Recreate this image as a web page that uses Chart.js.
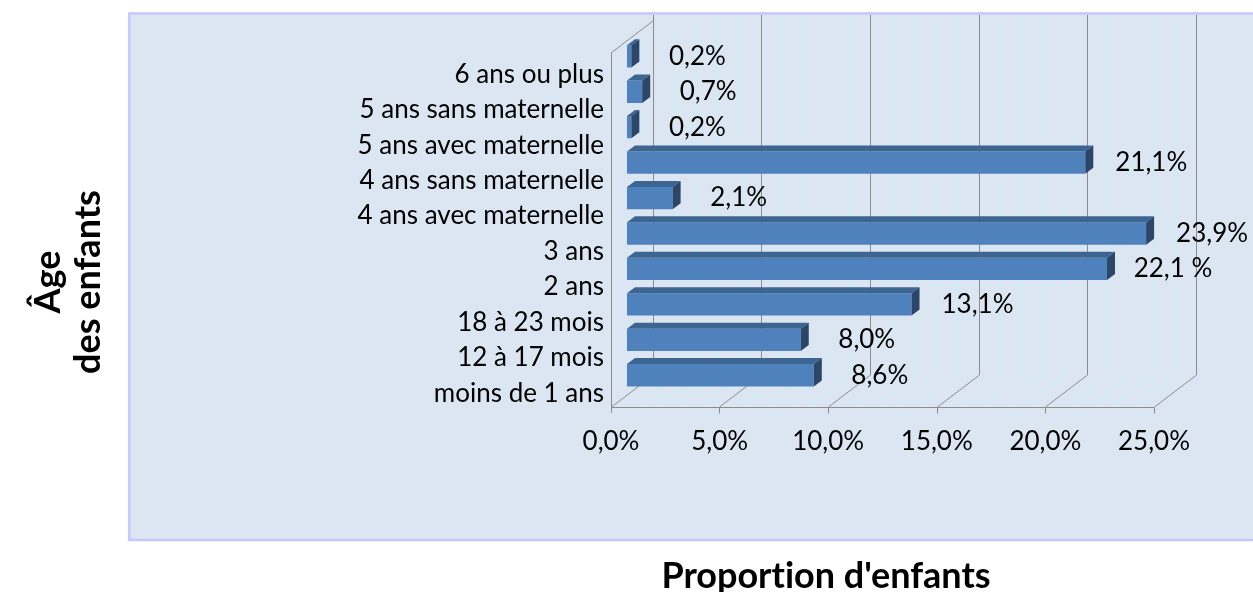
<!DOCTYPE html>
<html><head><meta charset="utf-8">
<script src="https://cdn.jsdelivr.net/npm/chart.js@4.4.1/dist/chart.umd.min.js"></script>
<style>html,body{margin:0;padding:0;background:#fff;}#wrap{width:1253px;height:592px;position:relative}</style>
</head><body><div id="wrap"><canvas id="c" width="1253" height="592"></canvas></div>
<script>
const categories = ["6 ans ou plus","5 ans sans maternelle","5 ans avec maternelle","4 ans sans maternelle","4 ans avec maternelle","3 ans","2 ans","18 à 23 mois","12 à 17 mois","moins de 1 ans"];
const values = [0.2, 0.7, 0.2, 21.1, 2.1, 23.9, 22.1, 13.1, 8.0, 8.6];
const valueLabels = ["0,2%","0,7%","0,2%","21,1%","2,1%","23,9%","22,1 %","13,1%","8,0%","8,6%"];
const xTickLabels = ["0,0%","5,0%","10,0%","15,0%","20,0%","25,0%"];
const xTitle = "Proportion d'enfants";
const yTitle = ["Âge","des enfants"];

const FONT = 'Lato';
Chart.defaults.font.family = FONT;

const FRONT = {dx:-16.3, dy:14};
const BACK = {dx:25.7, dy:-18};
const BARD = {dx:8, dy:-6};

const scene3d = {
  id:'scene3d',
  beforeDraw(chart){
    const ctx = chart.ctx;
    ctx.save();
    ctx.fillStyle = '#ffffff';
    ctx.fillRect(0,0,chart.width,chart.height);
    ctx.fillStyle = '#dce6f2';
    ctx.fillRect(128,12,chart.width-128,529);
    ctx.strokeStyle = '#c8c8fa';
    ctx.lineWidth = 2.5;
    ctx.beginPath();
    ctx.moveTo(chart.width,13.5); ctx.lineTo(129.2,13.5); ctx.lineTo(129.2,540); ctx.lineTo(chart.width,540);
    ctx.stroke();
    ctx.restore();
  },
  beforeDatasetsDraw(chart){
    const {ctx, chartArea:a, scales:{x}} = chart;
    const top = a.top, bot = a.bottom;
    const r = v => Math.round(v)+0.5;
    ctx.save();
    ctx.lineWidth = 1;
    const draw = (major) => {
      for (let v = 0; v <= 25; v++) {
        if ((v % 5 === 0) !== major) continue;
        const px = x.getPixelForValue(v);
        ctx.strokeStyle = major ? '#8c8c8c' : '#c6eff6';
        ctx.beginPath();
        ctx.moveTo(r(px+BACK.dx), 15);
        ctx.lineTo(r(px+BACK.dx), bot+BACK.dy);
        ctx.lineTo(r(px+FRONT.dx), bot+FRONT.dy);
        ctx.stroke();
      }
    };
    draw(false);
    draw(true);
    const x0 = x.getPixelForValue(0), x25 = x.getPixelForValue(25);
    ctx.strokeStyle = '#8c8c8c';
    ctx.beginPath();
    ctx.moveTo(r(x0+BACK.dx), top+BACK.dy);
    ctx.lineTo(r(x0+FRONT.dx), top+FRONT.dy);
    ctx.lineTo(r(x0+FRONT.dx), bot+FRONT.dy+6);
    ctx.moveTo(r(x0+FRONT.dx), r(bot+FRONT.dy));
    ctx.lineTo(r(x25+FRONT.dx), r(bot+FRONT.dy));
    for (let v = 5; v <= 25; v += 5) {
      const px = r(x.getPixelForValue(v)+FRONT.dx);
      ctx.moveTo(px, r(bot+FRONT.dy));
      ctx.lineTo(px, r(bot+FRONT.dy)+6);
    }
    ctx.stroke();
    ctx.restore();
  },
  afterDatasetsDraw(chart){
    const ctx = chart.ctx;
    const meta = chart.getDatasetMeta(0);
    ctx.save();
    meta.data.forEach((bar, i) => {
      const {x, y, base, height} = bar.getProps(['x','y','base','height'], true);
      const t = y - height/2, b = y + height/2;
      ctx.fillStyle = '#3d6591';
      ctx.beginPath();
      ctx.moveTo(base, t); ctx.lineTo(x, t); ctx.lineTo(x+BARD.dx, t+BARD.dy); ctx.lineTo(base+BARD.dx, t+BARD.dy);
      ctx.closePath(); ctx.fill();
      ctx.fillStyle = '#2b4668';
      ctx.beginPath();
      ctx.moveTo(x, t); ctx.lineTo(x+BARD.dx, t+BARD.dy); ctx.lineTo(x+BARD.dx, b+BARD.dy); ctx.lineTo(x, b);
      ctx.closePath(); ctx.fill();
    });
    ctx.fillStyle = '#000';
    ctx.font = '26px ' + FONT;
    ctx.textAlign = 'center';
    ctx.textBaseline = 'middle';
    meta.data.forEach((bar, i) => {
      const {x, y} = bar.getProps(['x','y'], true);
      ctx.fillText(valueLabels[i], x + 66, y);
    });
    ctx.restore();
  },
  afterDraw(chart){
    const ctx = chart.ctx;
    ctx.save();
    ctx.fillStyle = '#000';
    ctx.font = 'bold 36px ' + FONT;
    try { ctx.textRendering = 'optimizeSpeed'; } catch(e) {}
    ctx.textAlign = 'center';
    ctx.textBaseline = 'alphabetic';
    ctx.fillText(xTitle, 826, 588);
    ctx.translate(0, 282);
    ctx.rotate(-Math.PI/2);
    ctx.fillText(yTitle[0], 0, 60);
    ctx.fillText(yTitle[1], 0, 100);
    ctx.restore();
  }
};

new Chart(document.getElementById('c'), {
  type:'bar',
  data:{labels:categories, datasets:[{data:values, backgroundColor:'#4f81bd', borderWidth:0, barPercentage:0.63, categoryPercentage:1}]},
  options:{
    responsive:false, animation:false, devicePixelRatio:1,
    indexAxis:'y',
    layout:{padding:{top:34, right:83, left:0, bottom:0}},
    plugins:{legend:{display:false}, tooltip:{enabled:false}, title:{display:false}},
    scales:{
      x:{type:'linear', min:0, max:25, border:{display:false}, grid:{display:false, drawTicks:false},
         ticks:{stepSize:5, autoSkip:false, padding:33, labelOffset:-16, color:'#000', font:{size:26}, maxRotation:0, callback:(v,i)=>xTickLabels[i]},
         afterFit(s){ s.height = 199; }},
      y:{border:{display:false}, grid:{display:false, drawTicks:false},
         ticks:{padding:23, labelOffset:18, color:'#000', font:{size:26}, autoSkip:false},
         afterFit(s){ s.width = 627; }}
    }
  },
  plugins:[scene3d]
});
</script>
</body></html>
